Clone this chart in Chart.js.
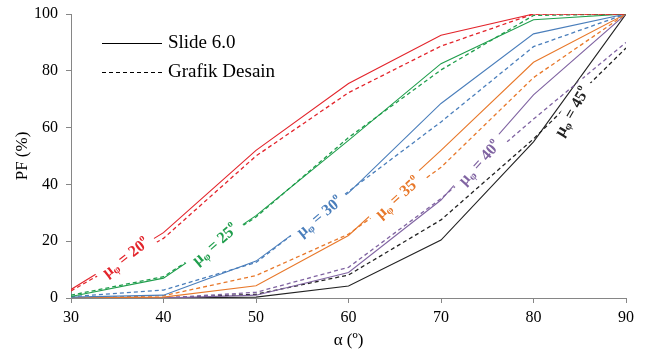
<!DOCTYPE html>
<html>
<head>
<meta charset="utf-8">
<script src="https://cdn.jsdelivr.net/npm/chart.js@4"></script>
<style>
  html, body { margin: 0; padding: 0; background: #fff; }
  #wrap { width: 651px; height: 354px; }
</style>
</head>
<body>
<div id="wrap"><canvas id="grafikPF" width="651" height="354"></canvas></div>
<script>
// sudut lereng alpha (derajat)
const alpha = [30, 40, 50, 60, 70, 80, 90];
const muPhi = [20, 25, 30, 35, 40, 45];

// PF (%) - Slide 6.0
const slide20 = [3, 23, 52, 75.5, 92.5, 100, 100];
const slide25 = [0.5, 7, 29, 55.5, 82.5, 98, 100];
const slide30 = [0.3, 1, 13, 37, 68.5, 93, 100];
const slide35 = [0, 0.3, 4.3, 22, 52, 83, 100];
const slide40 = [0, 0, 1, 9, 34.5, 71.5, 100];
const slide45 = [0, 0, 0.3, 4.2, 20.4, 55, 100];

// PF (%) - Grafik Desain
const grafik20 = [2.5, 21, 50, 72.3, 88.7, 100, 100];
const grafik25 = [1, 7.5, 28.5, 56.5, 80.3, 99.5, 100];
const grafik30 = [0.5, 2.8, 12.5, 37.5, 62, 88.5, 100];
const grafik35 = [0, 0.8, 7.9, 22.5, 46, 77.6, 100];
const grafik40 = [0, 0, 2, 10.8, 35, 63, 90];
const grafik45 = [0, 0, 1.3, 8.1, 27.5, 56, 88];

const slideSeries = [slide20, slide25, slide30, slide35, slide40, slide45];
const grafikSeries = [grafik20, grafik25, grafik30, grafik35, grafik40, grafik45];

const warna = ['#E3242B', '#1F9E4C', '#4A7EBB', '#E8782A', '#8064A2', '#222222'];
// posisi label mu (koordinat data) dan rotasinya
const labelPos = [
  { x: 35.95, y: 14.1, rot: -38 },
  { x: 45.6, y: 18.7, rot: -41 },
  { x: 56.9, y: 28.5, rot: -40 },
  { x: 65.35, y: 35.2, rot: -42 },
  { x: 74.2, y: 47.5, rot: -48 },
  { x: 84.2, y: 65.5, rot: -60 }
];

const serif = "'Liberation Serif', 'Times New Roman', serif";

const toPoints = arr => alpha.map((a, i) => ({ x: a, y: arr[i] }));

const datasets = [];
muPhi.forEach((mu, i) => {
  datasets.push({
    label: 'Slide 6.0 mu=' + mu,
    data: toPoints(slideSeries[i]),
    borderColor: warna[i],
    borderWidth: 1.1,
    pointRadius: 0,
    tension: 0
  });
  datasets.push({
    label: 'Grafik Desain mu=' + mu,
    data: toPoints(grafikSeries[i]),
    borderColor: warna[i],
    borderWidth: 1.3,
    borderDash: [4, 3],
    pointRadius: 0,
    tension: 0
  });
});

// label mu_phi di atas garis (dengan latar putih)
const muLabelPlugin = {
  id: 'muLabels',
  afterDatasetsDraw(chart) {
    const { ctx, scales: { x, y } } = chart;
    muPhi.forEach((mu, i) => {
      const p = labelPos[i];
      const px = x.getPixelForValue(p.x);
      const py = y.getPixelForValue(p.y);
      const parts = [
        { t: 'μ', size: 16, dy: 0 },
        { t: 'φ', size: 11, dy: 4 },
        { t: ' = ' + mu, size: 16, dy: 0 },
        { t: 'o', size: 10, dy: -6 }
      ];
      ctx.save();
      ctx.translate(px, py);
      ctx.rotate(p.rot * Math.PI / 180);
      let total = 0;
      parts.forEach(pt => {
        ctx.font = 'bold ' + pt.size + 'px ' + serif;
        pt.w = ctx.measureText(pt.t).width;
        total += pt.w;
      });
      ctx.fillStyle = '#fff';
      ctx.fillRect(-total / 2 - 7, -10, total + 14, 19);
      ctx.fillStyle = warna[i];
      ctx.textBaseline = 'middle';
      let cx = -total / 2;
      parts.forEach(pt => {
        ctx.font = 'bold ' + pt.size + 'px ' + serif;
        ctx.fillText(pt.t, cx, pt.dy);
        cx += pt.w;
      });
      ctx.restore();
    });
  }
};

// legenda manual
const legendPlugin = {
  id: 'legendaManual',
  afterDraw(chart) {
    const ctx = chart.ctx;
    ctx.save();
    ctx.strokeStyle = '#000';
    ctx.lineWidth = 1.1;
    ctx.beginPath();
    ctx.moveTo(102, 43.5);
    ctx.lineTo(162, 43.5);
    ctx.stroke();
    ctx.setLineDash([4, 3]);
    ctx.beginPath();
    ctx.moveTo(102, 72.5);
    ctx.lineTo(162, 72.5);
    ctx.stroke();
    ctx.setLineDash([]);
    ctx.fillStyle = '#000';
    ctx.font = '19px ' + serif;
    ctx.textBaseline = 'middle';
    ctx.fillText('Slide 6.0', 168, 43);
    ctx.fillText('Grafik Desain', 168, 72);
    ctx.restore();
  }
};

const axisGrey = '#868686';

new Chart(document.getElementById('grafikPF'), {
  type: 'line',
  data: { datasets },
  options: {
    responsive: false,
    animation: false,
    devicePixelRatio: 1,
    layout: { padding: { top: 14, right: 25, left: 0, bottom: 0 } },
    plugins: {
      legend: { display: false },
      tooltip: { enabled: false }
    },
    scales: {
      x: {
        type: 'linear',
        min: 30,
        max: 90,
        ticks: { stepSize: 10, color: '#000', padding: 5, font: { family: serif, size: 16 } },
        grid: { drawOnChartArea: false, tickLength: 5, color: axisGrey },
        border: { color: axisGrey },
        title: { display: true, text: 'α (º)', color: '#000', font: { family: serif, size: 17 }, padding: { top: 0, bottom: 3 } },
        afterFit(scale) { scale.height = 56; scale.paddingLeft = 0; scale.paddingRight = 0; }
      },
      y: {
        min: 0,
        max: 100,
        ticks: { stepSize: 20, color: '#000', padding: 8, font: { family: serif, size: 16 } },
        grid: { drawOnChartArea: false, tickLength: 5, color: axisGrey },
        border: { color: axisGrey },
        title: { display: true, text: 'PF (%)', color: '#000', font: { family: serif, size: 17 }, padding: { top: 12, bottom: 0 } },
        afterFit(scale) { scale.width = 71; scale.paddingTop = 0; scale.paddingBottom = 0; }
      }
    }
  },
  plugins: [muLabelPlugin, legendPlugin]
});
</script>
</body>
</html>
